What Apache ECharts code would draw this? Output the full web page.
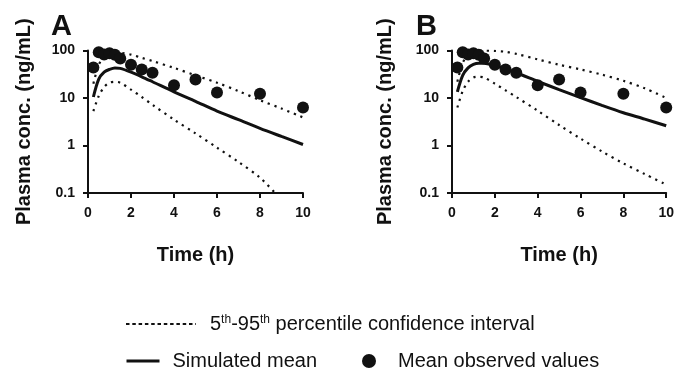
<!DOCTYPE html>
<html>
<head>
<meta charset="utf-8">
<script src="https://cdn.jsdelivr.net/npm/echarts@6/dist/echarts.min.js"></script>
<style>
  html, body { margin: 0; padding: 0; background: #fff; }
  #chart { width: 677px; height: 369px; }
</style>
</head>
<body>
<div id="chart"></div>
<script>
const FONT = 'Arial, "Liberation Sans", sans-serif';
const INK = '#111';

// simulation time grid (h)
const simTimes = [0.25, 0.5, 0.75, 1, 1.25, 1.5, 2, 2.5, 3, 4, 5, 6, 7, 8, 9, 10];

// panel A
const meanA  = [10.5, 25, 35, 40, 43, 42, 35, 28, 22, 13.5, 8.5, 5.3, 3.5, 2.3, 1.55, 1.05];
const upperA = [20, 50, 75, 88, 92, 90, 82, 70, 60, 43, 30, 21, 14, 9, 6, 3.9];
const lowerA = [5.3, 11, 17, 21, 22, 21, 15, 10.5, 7.2, 3.5, 1.8, 0.9, 0.45, 0.21, 0.075, 0.035];

// panel B
const meanB  = [13.5, 30, 43, 51, 54, 54, 48, 41, 34, 22.5, 15, 10.2, 7, 4.9, 3.6, 2.6];
const upperB = [22, 55, 80, 95, 99, 100, 98, 94, 85, 65, 50, 40, 31, 23, 16, 10];
const lowerB = [6.3, 14, 22, 27, 28, 27, 20, 14.5, 10.5, 5.4, 2.7, 1.4, 0.75, 0.42, 0.25, 0.15];

// observed means (same in both panels)
const obsTimes  = [0.25, 0.5, 0.75, 1, 1.25, 1.5, 2, 2.5, 3, 4, 5, 6, 8, 10];
const obsValues = [44, 92, 82, 88, 81, 68, 50, 40, 34, 18.5, 24.5, 13, 12.3, 6.3];

const xTicks = [0, 2, 4, 6, 8, 10];

const CI_NAME = '5th-95th percentile confidence interval';
const MEAN_NAME = 'Simulated mean';
const OBS_NAME = 'Mean observed values';

const pairs = (xs, ys) => xs.map((x, i) => [x, ys[i]]);

const chart = echarts.init(document.getElementById('chart'));

const panels = [
  { left: 88, width: 215, nameGap: 54, letter: 'A', letterX: 51, mean: meanA, upper: upperA, lower: lowerA },
  { left: 452, width: 215.5, nameGap: 57, letter: 'B', letterX: 416, mean: meanB, upper: upperB, lower: lowerB }
];

const axisLineStyle = { color: INK, width: 2 };

const grids = panels.map(p => ({ left: p.left, top: 50.5, width: p.width, height: 142.5 }));

const xAxes = panels.map((p, i) => ({
  type: 'value',
  gridIndex: i,
  min: xTicks[0],
  max: xTicks[xTicks.length - 1],
  interval: 2,
  name: 'Time (h)',
  nameLocation: 'middle',
  nameGap: 52,
  nameTextStyle: { fontFamily: FONT, fontWeight: 'bold', fontSize: 20, color: INK },
  axisLine: { lineStyle: axisLineStyle },
  axisTick: { length: 5, lineStyle: axisLineStyle },
  axisLabel: { fontFamily: FONT, fontWeight: 'bold', fontSize: 14, color: INK, margin: 13 },
  splitLine: { show: false }
}));

const yAxes = panels.map((p, i) => ({
  type: 'log',
  logBase: 10,
  gridIndex: i,
  min: 0.1,
  max: 100,
  name: 'Plasma conc. (ng/mL)',
  nameLocation: 'middle',
  nameGap: p.nameGap,
  nameTextStyle: { fontFamily: FONT, fontWeight: 'bold', fontSize: 20, color: INK },
  axisLine: { show: true, lineStyle: axisLineStyle },
  axisTick: { show: true, length: 5, lineStyle: axisLineStyle },
  axisLabel: {
    fontFamily: FONT, fontWeight: 'bold', fontSize: 14, color: INK, margin: 13,
    formatter: v => String(+v.toPrecision(3))
  },
  splitLine: { show: false },
  minorTick: { show: false }
}));

const series = [];
panels.forEach((p, i) => {
  const dotted = { color: INK, width: 2.2, type: [2.2, 4.8] };
  series.push({
    name: CI_NAME, type: 'line', xAxisIndex: i, yAxisIndex: i,
    data: pairs(simTimes, p.upper), smooth: 0.3, symbol: 'none',
    lineStyle: dotted, itemStyle: { color: INK }, clip: true, z: 2
  });
  series.push({
    name: CI_NAME, type: 'line', xAxisIndex: i, yAxisIndex: i,
    data: pairs(simTimes, p.lower), smooth: 0.3, symbol: 'none',
    lineStyle: dotted, itemStyle: { color: INK }, clip: true, z: 2
  });
  series.push({
    name: MEAN_NAME, type: 'line', xAxisIndex: i, yAxisIndex: i,
    data: pairs(simTimes, p.mean), smooth: 0.3, symbol: 'none',
    lineStyle: { color: INK, width: 3 }, itemStyle: { color: INK }, clip: true, z: 3
  });
  series.push({
    name: OBS_NAME, type: 'scatter', xAxisIndex: i, yAxisIndex: i,
    data: pairs(obsTimes, obsValues), symbol: 'circle', symbolSize: 12,
    itemStyle: { color: INK, opacity: 1 }, z: 4
  });
});

const legendText = { fontFamily: FONT, fontSize: 20, color: INK };

chart.setOption({
  animation: false,
  backgroundColor: '#fff',
  grid: grids,
  xAxis: xAxes,
  yAxis: yAxes,
  series: series,
  legend: [
    {
      data: [CI_NAME], left: 120, top: 309, selectedMode: false,
      itemWidth: 70, itemHeight: 14,
      itemStyle: { opacity: 0 },
      lineStyle: { color: INK, width: 2, type: [3.5, 2.8] },
      formatter: () => '5{sup|th}-95{sup|th} percentile confidence interval',
      textStyle: Object.assign({}, legendText, {
        padding: [0, 0, 0, 9],
        rich: {
          sup: { fontFamily: FONT, fontSize: 12, color: INK, verticalAlign: 'top', lineHeight: 12 }
        }
      })
    },
    {
      data: [MEAN_NAME], left: 120, top: 346, selectedMode: false,
      itemWidth: 33, itemHeight: 14,
      itemStyle: { opacity: 0 },
      lineStyle: { color: INK, width: 3, type: 'solid' },
      textStyle: Object.assign({}, legendText, { padding: [0, 0, 0, 8] })
    },
    {
      data: [OBS_NAME], left: 357, top: 346, selectedMode: false,
      itemWidth: 14, itemHeight: 14,
      itemStyle: { color: INK, opacity: 1 },
      textStyle: Object.assign({}, legendText, { padding: [0, 0, 0, 17] })
    }
  ],
  graphic: panels.map(p => ({
    type: 'text', left: p.letterX, top: 12,
    style: { text: p.letter, font: 'bold 29px ' + FONT, fill: INK }
  }))
});
</script>
</body>
</html>
